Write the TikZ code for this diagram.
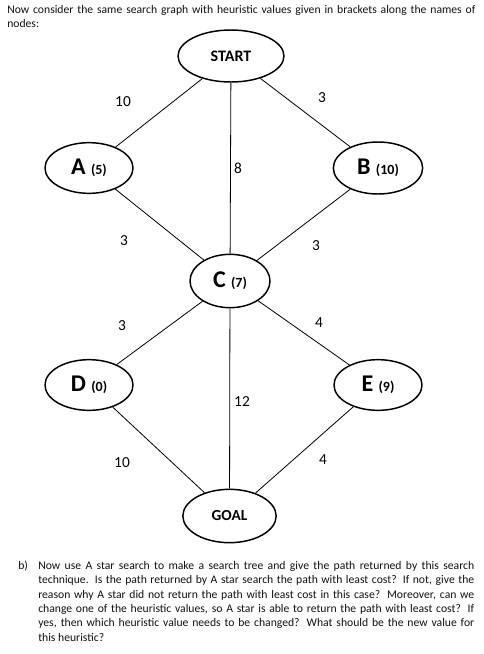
\documentclass[tikz,border=0pt]{standalone}
\usepackage{fontspec}
\setmainfont{Carlito}
\usepackage{tikz}
\usetikzlibrary{shapes.geometric}
\definecolor{graphink}{HTML}{000000}
\definecolor{textgray}{HTML}{111111}

\tikzset{
  state/.style={ellipse, draw=graphink, line width=1.1pt, fill=white, inner sep=0pt},
  link/.style={draw=graphink, line width=0.6pt},
  cost/.style={font=\fontsize{11.5}{13}\selectfont, inner sep=1pt},
  prose/.style={anchor=north west, inner sep=0pt, text=textgray, font=\fontsize{8.75}{10.8}\selectfont}
}
\newcommand{\hname}[2]{\textbf{\fontsize{18}{19}\selectfont #1}\hspace{4pt}{\textbf{\fontsize{10.5}{11}\selectfont (#2)}}}

\begin{document}
\begin{tikzpicture}[x=0.75pt, y=-0.75pt]
\useasboundingbox (0,0) rectangle (483,654);

% question text
\node[prose, text width=360pt, align=left] (intro) at (7,5)
  {Now consider the same search graph with heuristic values given in brackets along the names of\\ nodes:};

% nodes of the graph
\node[state, minimum width=79.5pt, minimum height=39pt, font=\bfseries\fontsize{12}{14}\selectfont] (start) at (231,56) {START};
\node[state, minimum width=66pt, minimum height=38pt] (a) at (89,168) {\hname{A}{5}};
\node[state, minimum width=67pt, minimum height=39pt] (b) at (378,168) {\hname{B}{10}};
\node[state, minimum width=60pt, minimum height=40pt] (c) at (230,281) {\hname{C}{7}};
\node[state, minimum width=66pt, minimum height=38pt] (d) at (89,385) {\hname{D}{0}};
\node[state, minimum width=66pt, minimum height=38pt] (e) at (378,385) {\hname{E}{9}};
\node[state, minimum width=70pt, minimum height=40pt, font=\bfseries\fontsize{11.5}{14}\selectfont] (goal) at (229.5,516) {GOAL};

% edges
\draw[link] (start) -- (a);
\draw[link] (start) -- (b);
\draw[link] (start) -- (c);
\draw[link] (a) -- (c);
\draw[link] (b) -- (c);
\draw[link] (c) -- (d);
\draw[link] (c) -- (e);
\draw[link] (c) -- (goal);
\draw[link] (d) -- (goal);
\draw[link] (e) -- (goal);

% path costs
\node[cost] (wsa) at (123,102) {10};
\node[cost] (wsb) at (322,98) {3};
\node[cost] (wsc) at (238,168) {8};
\node[cost] (wac) at (124,241) {3};
\node[cost] (wbc) at (316,246) {3};
\node[cost] (wcd) at (122,326) {3};
\node[cost] (wce) at (319,323) {4};
\node[cost] (wcg) at (242,402) {12};
\node[cost] (wdg) at (122,463) {10};
\node[cost] (weg) at (323,460) {4};

% part b
\node[prose, text width=327pt, align=justify] (partb) at (38,561)
  {Now use A star search to make a search tree and give the path returned by this search\linebreak
   technique. Is the path returned by A star search the path with least cost? If not, give the\linebreak
   reason why A star did not return the path with least cost in this case? Moreover, can we\linebreak
   change one of the heuristic values, so A star is able to return the path with least cost? If\linebreak
   yes, then which heuristic value needs to be changed? What should be the new value for\linebreak
   this heuristic?};
\node[prose] (bmark) at (18,561) {b)};
\end{tikzpicture}
\end{document}
